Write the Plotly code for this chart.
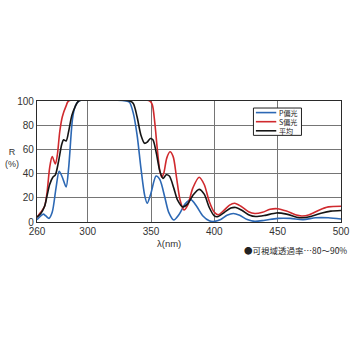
import plotly.graph_objects as go

# Reflectance spectra (wavelength in nm, reflectance in %)
wl_p = [260, 263, 265, 267, 269.5, 272, 275, 277.5, 280, 283, 285, 288, 290, 293,
        330, 333, 336, 339, 342, 345, 347, 350, 354, 357, 361, 364, 368, 372, 377,
        381.5, 386, 391, 396, 400, 405, 410, 415, 420, 426, 432, 440, 450, 460,
        470, 480, 490, 500]
r_p = [2, 5, 6.5, 5, 3, 8, 28, 42, 37, 29, 45, 85, 95, 100,
       100, 99, 90, 72, 45, 22, 15.5, 24, 38, 35, 20, 8, 1.7, 6, 15,
       18.5, 13, 5, 1, 0.5, 2, 5.5, 7, 5.5, 2, 0.5, 1.5, 3, 3,
       2, 3.5, 3.5, 2.5]

wl_s = [260, 263, 266, 268, 270, 272, 274.5, 276, 278, 280, 283, 285,
        349, 351, 353, 355, 357, 358.5, 360, 362.5, 365, 367.5, 370, 373, 376,
        379, 383, 388, 392, 396, 400, 403, 407, 412, 416, 421, 427, 432, 438,
        444, 450, 457, 464, 469, 475, 483, 490, 500]
r_s = [4, 8, 13, 25, 45, 54, 48, 55, 75, 87, 96, 100,
       100, 97, 82, 60, 42, 37, 40, 53, 58, 54, 38, 18, 10,
       14, 28, 37, 31, 17, 8, 6, 9, 14, 15.5, 13, 8.5, 7, 8,
       10.5, 11, 9, 6, 5, 6, 10, 12.5, 13]

wl_avg = [260, 263, 266, 268, 270, 272.5, 274.5, 277, 279.5, 281, 283, 285, 287.5,
          290, 293, 333, 336, 339, 342, 345, 347, 349.5, 351.5, 354, 357, 359.5,
          362, 364.5, 368, 371, 375, 379, 383, 388, 392, 396, 400, 403, 408, 413,
          417, 422, 428, 432.5, 440, 449, 457, 465, 469, 476, 485, 492, 500]
r_avg = [4, 7, 13, 22, 31, 37, 39, 50, 64, 68, 67, 75, 88,
         95, 100, 100, 98, 87, 72, 65, 66, 69, 68, 58, 42, 36,
         39, 38, 28, 18, 12.5, 15, 22, 27, 23, 12, 5, 4.5, 8, 11.5,
         12, 9.5, 5.5, 4.5, 5.5, 7.5, 6.5, 4, 3.5, 4.5, 7.5, 9, 9.5]

x_ticks = [260, 300, 350, 400, 450, 500]
y_ticks = [0, 20, 40, 60, 80, 100]

series = [
    ("P偏光", wl_p, r_p, "#2c68b4"),
    ("S偏光", wl_s, r_s, "#d02a2e"),
    ("平均", wl_avg, r_avg, "#151515"),
]

fig = go.Figure()
for name, wl, r, color in series:
    fig.add_trace(go.Scatter(
        x=wl, y=r, name=name, mode="lines",
        line=dict(color=color, width=1.6, shape="spline", smoothing=0.8),
        showlegend=False,
    ))

font_main = "Liberation Sans, Arial, sans-serif"
font_cjk = "Noto Sans CJK JP, sans-serif"

fig.update_layout(
    width=350, height=350, autosize=False,
    margin=dict(l=37, r=9, t=101, b=128, autoexpand=False),
    paper_bgcolor="white", plot_bgcolor="white",
    xaxis=dict(
        range=[260, 500], tickvals=x_ticks, ticktext=[str(v) for v in x_ticks],
        showgrid=True, gridcolor="#757575", gridwidth=1,
        showline=True, linecolor="#2a2a2a", linewidth=1.3, mirror=True,
        ticks="", tickfont=dict(family=font_main, size=10, color="#333"),
        zeroline=False,
    ),
    yaxis=dict(
        range=[0, 100], tickvals=y_ticks,
        showgrid=True, gridcolor="#757575", gridwidth=1,
        showline=True, linecolor="#2a2a2a", linewidth=1.3, mirror=True,
        ticks="", tickfont=dict(family=font_main, size=10, color="#333"),
        zeroline=False,
    ),
)

# Axis titles
fig.add_annotation(text="R<br>(%)", xref="paper", yref="paper",
                   x=-0.082, y=0.53, xanchor="center", yanchor="middle",
                   showarrow=False, align="center",
                   font=dict(family=font_main, size=9, color="#333"))
fig.add_annotation(text="λ(nm)", xref="paper", yref="paper",
                   x=0.435, y=-0.174, xanchor="center", yanchor="middle",
                   showarrow=False,
                   font=dict(family=font_main, size=9.5, color="#333"))
fig.add_annotation(text="●可視域透過率…80～90%", xref="paper", yref="paper",
                   x=1.026, y=-0.231, xanchor="right", yanchor="middle",
                   showarrow=False,
                   font=dict(family=font_cjk, size=8.5, color="#222"))

# Compact legend box: sample lines plus one multi-line label block
lx0, lx1 = 0.712, 0.870
ly0, ly1 = 0.716, 0.942
ymid = (ly0 + ly1) / 2
row = 9.1 / 121.0
fig.add_shape(type="rect", xref="paper", yref="paper",
              x0=lx0, x1=lx1, y0=ly0, y1=ly1,
              line=dict(color="#222", width=1), fillcolor="white")
for i, (name, _, _, color) in enumerate(series):
    yy = ymid + (1 - i) * row
    fig.add_shape(type="line", xref="paper", yref="paper",
                  x0=lx0 + 0.008, x1=lx0 + 0.075, y0=yy, y1=yy,
                  line=dict(color=color, width=1.6))
fig.add_annotation(text="<br>".join(s[0] for s in series),
                   xref="paper", yref="paper",
                   x=lx0 + 0.078, y=ymid, xanchor="left", yanchor="middle",
                   align="left", showarrow=False,
                   font=dict(family=font_cjk, size=7, color="#222"))

fig.write_html("out.html", config={"responsive": False},
               default_width="350px", default_height="350px")
